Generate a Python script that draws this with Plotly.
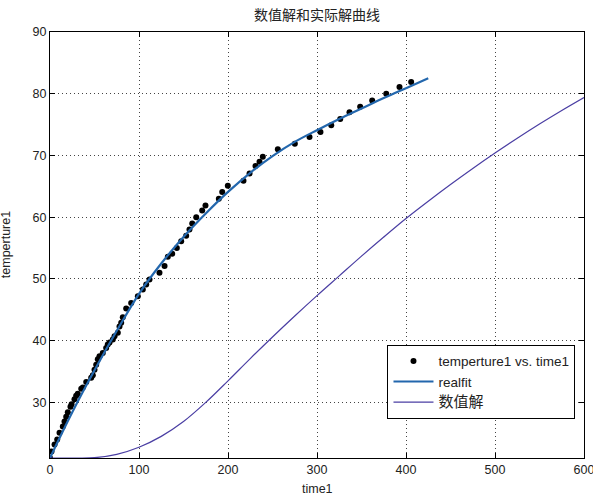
import plotly.graph_objects as go

# Measured data points (time1, temperture1)
time1 = [0.0, 1.7, 5.1, 8.1, 10.7, 14.4, 16.3, 18.2, 20.0, 23.0, 24.2, 27.5, 29.4, 31.2,
         35.1, 36.9, 40.7, 46.3, 48.1, 50.0, 51.9, 53.7, 55.6, 59.3, 63.1, 64.9, 66.9,
         70.6, 72.5, 76.2, 78.1, 80.0, 81.8, 85.6, 91.2, 98.7, 104.3, 108.1, 111.8, 123.0,
         128.7, 132.4, 137.3, 142.5, 147.4, 153.0, 156.7, 159.8, 164.3, 171.0, 174.7,
         189.7, 193.5, 199.8, 217.4, 224.2, 230.9, 235.4, 239.1, 256.0, 275.1, 291.6,
         303.9, 316.0, 326.1, 336.5, 348.5, 362.0, 377.8, 392.7, 405.8]
temperture1 = [21.0, 22.05, 23.2, 24.0, 25.1, 26.1, 26.9, 27.7, 28.4, 29.3, 29.7, 30.5, 31.1, 31.4,
               32.2, 32.4, 33.3, 34.0, 34.4, 35.3, 36.1, 37.0, 37.5, 38.0, 38.8, 39.4, 39.7,
               40.2, 40.7, 41.3, 42.3, 42.9, 43.8, 45.2, 46.1, 47.2, 48.3, 49.1, 49.9, 51.0,
               52.1, 53.6, 54.1, 55.0, 56.1, 57.0, 58.0, 59.0, 60.0, 61.1, 61.9,
               63.0, 64.1, 65.1, 65.9, 67.1, 68.3, 69.0, 69.8, 71.0, 71.9, 73.0,
               73.8, 74.9, 75.9, 77.0, 77.9, 78.9, 80.0, 81.1, 81.9]

# Fitted curve (realfit)
fit_time = [0, 25, 50, 75, 100, 125, 150, 175, 200, 225, 250, 275, 300, 325, 350, 375, 400, 425]
fit_temp = [21.0, 28.4, 35.2, 41.6, 47.6, 52.5, 56.8, 60.6, 64.1, 67.2, 69.9, 72.2, 74.1,
            75.9, 77.6, 79.3, 80.9, 82.5]

# Numerical solution (数值解)
num_time = [0, 25, 50, 75, 100, 125, 150, 175, 200, 225, 250, 275, 300, 325, 350, 375,
            400, 425, 450, 475, 500, 525, 550, 575, 600]
num_temp = [21.0, 21.0, 21.05, 21.6, 22.75, 24.5, 26.9, 30.0, 33.5, 37.1, 40.6, 44.0, 47.3,
            50.5, 53.7, 56.8, 59.8, 62.6, 65.3, 67.9, 70.4, 72.8, 75.1, 77.3, 79.4]

x_ticks = [0, 100, 200, 300, 400, 500, 600]
y_ticks = [30, 40, 50, 60, 70, 80, 90]

FONT = "Liberation Sans, Arial, Noto Sans CJK SC, sans-serif"
CJK = "Noto Sans CJK SC, sans-serif"

fig = go.Figure()
fig.add_trace(go.Scatter(x=time1, y=temperture1, mode="markers",
                         marker=dict(color="black", size=6),
                         name="temperture1 vs. time1"))
fig.add_trace(go.Scatter(x=fit_time, y=fit_temp, mode="lines",
                         line=dict(color="#2367ad", width=2.2, shape="spline"),
                         name="realfit"))
fig.add_trace(go.Scatter(x=num_time, y=num_temp, mode="lines",
                         line=dict(color="#4a3ea3", width=1.2, shape="spline"),
                         name='<span style="font-size:15px;font-family:Noto Sans CJK SC">数值解</span>'))

axis_common = dict(showgrid=True, griddash="1px,3px", gridcolor="#444", gridwidth=1,
                   showline=True, linecolor="black", linewidth=1, mirror="ticks",
                   ticks="inside", ticklen=5, tickcolor="black", zeroline=False,
                   ticklabeloverflow="allow",
                   tickfont=dict(family=FONT, size=12.5, color="#222"))

fig.update_layout(
    width=593, height=497,
    margin=dict(l=50, r=9, t=32, b=39, autoexpand=False),
    paper_bgcolor="white", plot_bgcolor="white",
    font=dict(family=FONT, size=12, color="#222"),
    title=dict(text="数值解和实际解曲线", x=0.5, xref="paper", y=1 - 15 / 497,
               yanchor="middle", xanchor="center",
               font=dict(family=CJK, size=14, color="#222")),
    xaxis=dict(range=[0, 600], tickvals=x_ticks, **axis_common),
    yaxis=dict(range=[21, 90], tickvals=y_ticks, **axis_common),
    legend=dict(x=0.632, y=0.266, xanchor="left", yanchor="top",
                bgcolor="white", bordercolor="black", borderwidth=1,
                font=dict(family=FONT, size=13.5, color="#222"),
                itemwidth=40, tracegroupgap=0),
    showlegend=True,
    annotations=[
        dict(text="time1", xref="paper", yref="paper", x=0.5, y=-0.072,
             xanchor="center", yanchor="middle", showarrow=False,
             font=dict(family=FONT, size=12.5, color="#222")),
        dict(text="temperture1", xref="paper", yref="paper", x=-0.082, y=0.5,
             xanchor="center", yanchor="middle", showarrow=False, textangle=-90,
             font=dict(family=FONT, size=12.5, color="#222")),
    ],
)

fig.write_html("out.html", config={"displayModeBar": False},
               post_script="document.body.style.margin='0';document.body.style.overflow='hidden';")
